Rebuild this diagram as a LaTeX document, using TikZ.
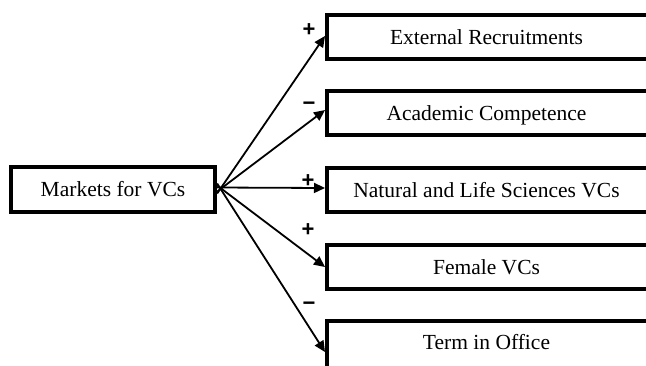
\documentclass[tikz,border=0pt]{standalone}
\usepackage{fontspec}
\setmainfont{Liberation Serif}
\newfontfamily\signfont{Liberation Sans}
\usetikzlibrary{arrows.meta}
\begin{document}
\begin{tikzpicture}[x=1pt,y=-1pt,
  box/.style={draw=black,line width=4pt,minimum height=44pt,inner sep=0pt,
    text height=14pt,text depth=0pt,font=\fontsize{21.5}{24}\selectfont},
  srcbox/.style={box,line width=4.3pt,minimum width=204pt,minimum height=45pt},
  tgtbox/.style={box,minimum width=340pt,execute at end node={\hspace{21pt}}},
  sign/.style={inner sep=0pt,font=\signfont\bfseries\fontsize{22}{24}\selectfont},
  conn/.style={line width=1.8pt,-{Triangle[length=11pt,width=10pt]}}]
\useasboundingbox (0,0) rectangle (646,365);
\clip (0,0) rectangle (646,365);
\node[srcbox] (m) at (113,189.5) {Markets for VCs};
\node[tgtbox] (b1) at (497,37) {External Recruitments};
\node[tgtbox] (b2) at (497,113) {Academic Competence};
\node[tgtbox] (b3) at (497,190) {Natural and Life Sciences VCs};
\node[tgtbox] (b4) at (497,267) {Female VCs};
\node[tgtbox,minimum height=50pt,text depth=8pt] (b5) at (497,346) {Term in Office};
\node[sign] (s1) at (309,30) {+};
\node[sign] (s2) at (309,106) {−};
\node[sign] (s3) at (308,181) {+};
\node[sign] (s4) at (308,230) {+};
\node[sign] (s5) at (309,306) {−};
\draw[conn] ([yshift=-4pt]m.east) -- ([yshift=1pt]b1.west);
\draw[conn] ([yshift=-2pt]m.east) -- ([yshift=3pt]b2.west);
\draw[conn] ([yshift=2pt]m.east) -- ([yshift=2pt]b3.west);
\draw[conn] ([yshift=4pt]m.east) -- (b4.west);
\draw[conn] ([yshift=6pt]m.east) -- ([yshift=-6pt]b5.west);
\end{tikzpicture}
\end{document}
